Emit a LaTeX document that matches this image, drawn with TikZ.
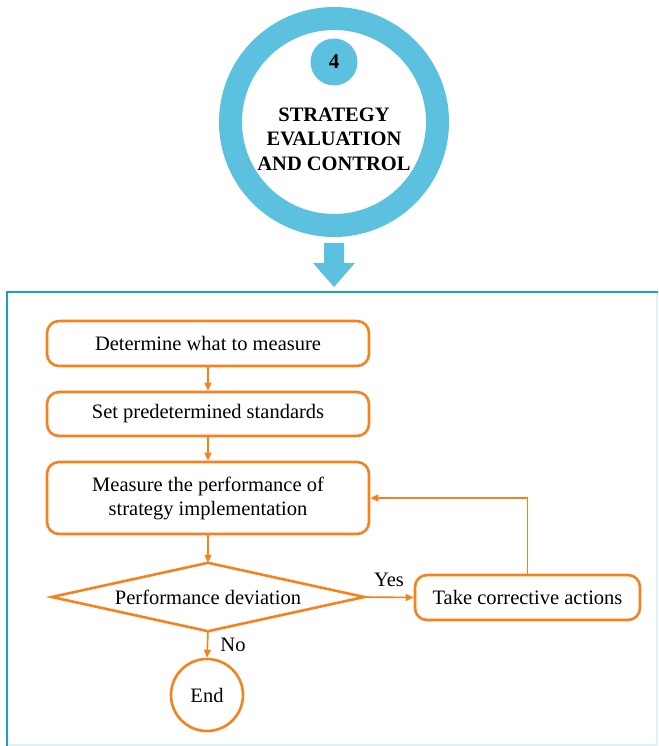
\documentclass[tikz,border=0pt]{standalone}
\usepackage{fontspec}
\setmainfont{Liberation Serif}
\usetikzlibrary{arrows.meta}

\definecolor{ringblue}{RGB}{91,193,222}
\definecolor{frameblue}{RGB}{24,156,214}
\definecolor{framepale}{RGB}{222,243,248}
\definecolor{flowor}{RGB}{246,130,31}

\tikzset{
  stepbox/.style={draw=flowor, line width=2.6pt, rounded corners=12pt,
    inner sep=0pt, align=center, font=\fontsize{20.5}{24}\selectfont},
  decision/.style={inner sep=0pt, font=\fontsize{20.5}{24}\selectfont},
  outline/.style={draw=flowor, line width=2.6pt, line join=miter},
  endnode/.style={draw=flowor, line width=2.6pt, circle, inner sep=0pt,
    minimum size=72pt, font=\fontsize{20.5}{24}\selectfont},
  flow/.style={draw=flowor, line width=1.6pt,
    -{Triangle[length=8pt,width=7pt]}},
  lbl/.style={font=\fontsize{20.5}{24}\selectfont, inner sep=0pt},
}

\begin{document}
\begin{tikzpicture}[x=1pt,y=-1pt]
\useasboundingbox (0,0) rectangle (658,746);

% stage ring with its number badge
\draw[ringblue, line width=23pt] (334,122) circle (103.5pt);
\node[circle, fill=ringblue, minimum size=47pt, inner sep=0pt,
  font=\fontsize{21}{24}\selectfont\bfseries] (num) at (334,62) {4};
\node[align=center, inner sep=0pt,
  font=\fontsize{20.5}{24.5}\selectfont\bfseries] (title) at (334,139)
  {STRATEGY\\EVALUATION\\AND CONTROL};

% block arrow pointing into the panel
\fill[ringblue] (324,243) -- (344,243) -- (344,263) -- (355,263)
  -- (334,287) -- (313,263) -- (324,263) -- cycle;

% panel frame
\draw[framepale, line width=1.5pt] (7,292) rectangle (657,745);
\draw[frameblue, line width=2.5pt] (658,292) -- (7,292) -- (7,746);

% flow chart
\node[stepbox, minimum width=322pt, minimum height=45pt] (s1) at (208,343.5)
  {Determine what to measure};
\node[stepbox, minimum width=322pt, minimum height=44pt] (s2) at (208,414)
  {Set predetermined standards};
\node[stepbox, minimum width=322pt, minimum height=72pt] (s3) at (208,498)
  {Measure the performance of\\strategy implementation};
\node[decision, minimum width=312pt, minimum height=68pt] (dev) at (208,597)
  {Performance deviation};
\draw[outline] (dev.west) -- (dev.north) -- (dev.east) -- (dev.south) -- cycle;
\node[stepbox, minimum width=225pt, minimum height=45pt] (act) at (527.5,597.5)
  {Take corrective actions};
\node[endnode] (end) at (207,695) {End};

\draw[flow] (s1) -- (s2);
\draw[flow] (s2) -- (s3);
\draw[flow] (s3) -- (dev.north);
\draw[flow] (dev.east) -- (act.west);
\draw[flow] (dev.south) -- (end.north);
\draw[flow] (act.north) |- (s3.east);

\node[lbl] (yes) at (389,580) {Yes};
\node[lbl] (no) at (233,645) {No};
\end{tikzpicture}
\end{document}
